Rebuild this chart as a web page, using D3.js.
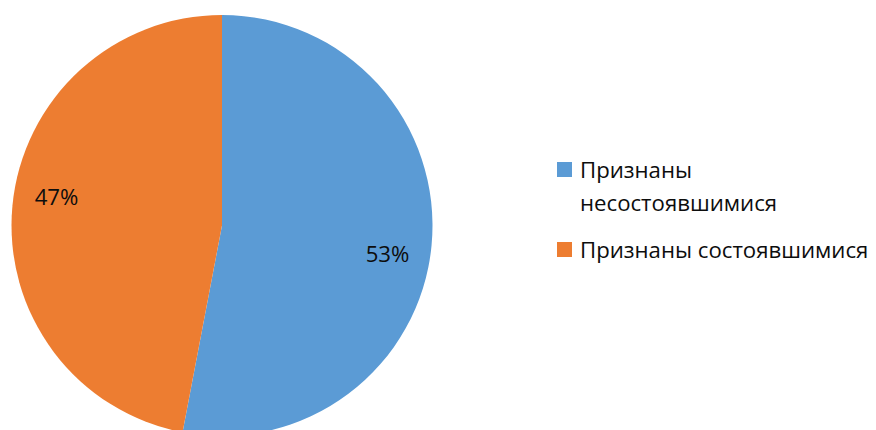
<!DOCTYPE html>
<html>
<head>
<meta charset="utf-8">
<script src="https://cdn.jsdelivr.net/npm/d3@7"></script>
<style>
  html, body { margin: 0; padding: 0; background: #fff; }
  svg { display: block; }
  text { font-family: "Open Sans", "Noto Sans", sans-serif; fill: #0d0d0d; }
</style>
</head>
<body>
<svg id="chart" width="876" height="430"></svg>
<script>
// Share of procedures by outcome, percent
const categories = ["Признаны несостоявшимися", "Признаны состоявшимися"];
const values = [53, 47];
const colors = ["#5B9BD5", "#ED7D31"];
// Legend lines (first entry wraps onto two lines)
const legendLines = [["Признаны", "несостоявшимися"], ["Признаны состоявшимися"]];

const width = 876, height = 430;
const svg = d3.select("#chart");
svg.append("rect").attr("width", width).attr("height", height).attr("fill", "#fff");

const cx = 222, cy = 225.5, radius = 210.5;
const fontSize = 22.2;

const pie = d3.pie().sort(null).value(d => d);
const arcs = pie(values);
const arc = d3.arc().innerRadius(0).outerRadius(radius);

const g = svg.append("g").attr("transform", `translate(${cx},${cy})`);

g.selectAll("path.slice")
  .data(arcs)
  .enter().append("path")
  .attr("class", "slice")
  .attr("d", arc)
  .attr("fill", (d, i) => colors[i]);

// Data labels placed inside each slice, near the rim
const labelR = 168;
const labelShift = 4.5 * Math.PI / 180;
g.selectAll("text.lbl")
  .data(arcs)
  .enter().append("text")
  .attr("class", "lbl")
  .attr("text-anchor", "middle")
  .attr("font-size", fontSize)
  .attr("x", d => labelR * Math.sin((d.startAngle + d.endAngle) / 2 + labelShift))
  .attr("y", d => -labelR * Math.cos((d.startAngle + d.endAngle) / 2 + labelShift) + 8)
  .text(d => d.value + "%");

// Legend
const legend = svg.append("g").attr("transform", "translate(557,162)");
const itemTop = [0, 80];
const lineGap = 33;
categories.forEach((c, i) => {
  const item = legend.append("g").attr("transform", `translate(0,${itemTop[i]})`);
  item.append("rect").attr("width", 15).attr("height", 15).attr("fill", colors[i]);
  const t = item.append("text").attr("font-size", fontSize);
  legendLines[i].forEach((ln, j) => {
    t.append("tspan").attr("x", 23).attr("y", 15.7 + j * lineGap).text(ln);
  });
});
</script>
</body>
</html>
